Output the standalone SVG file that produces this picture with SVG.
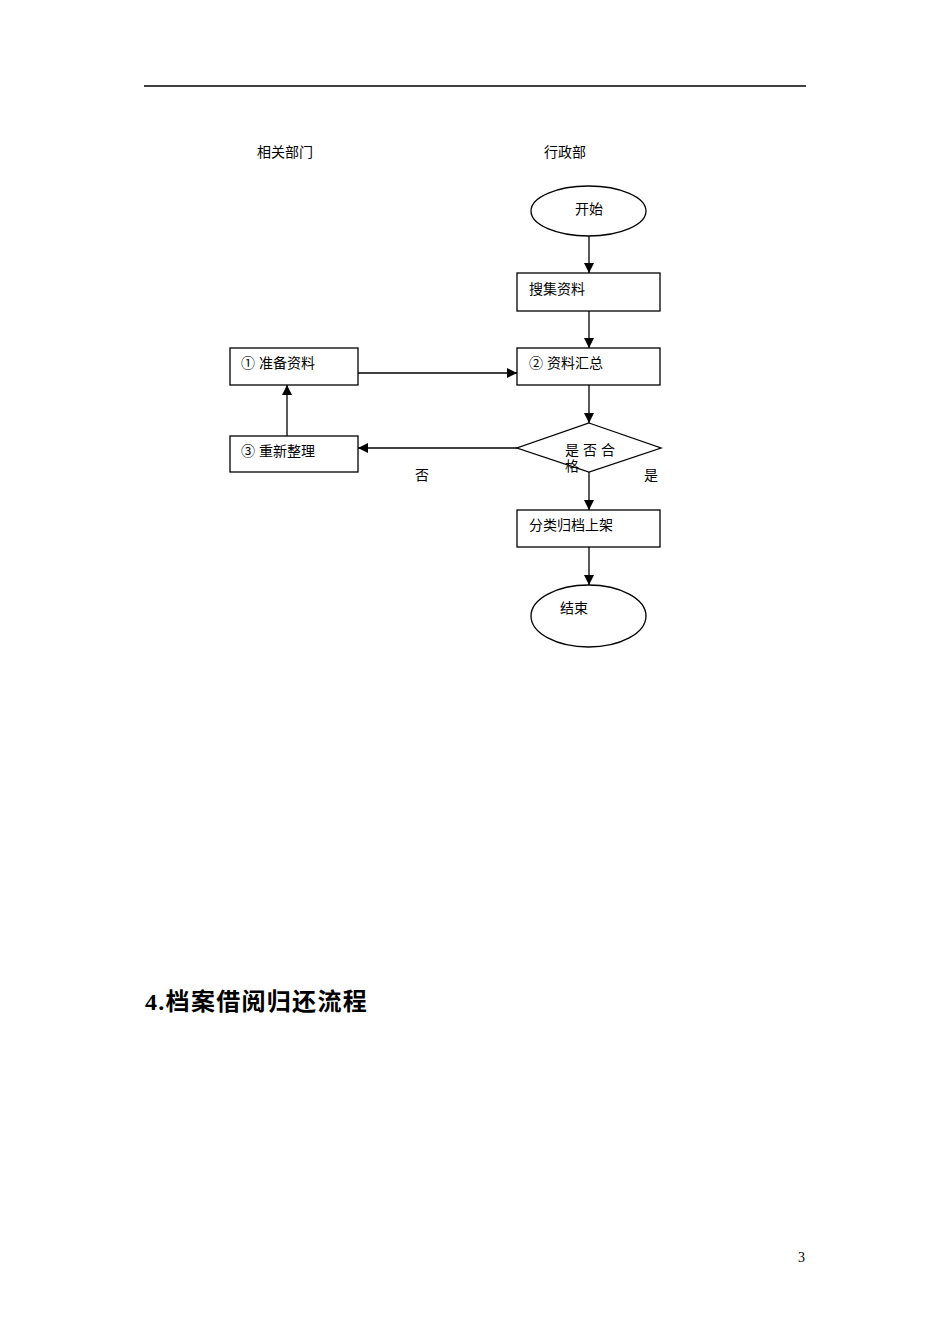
<svg xmlns="http://www.w3.org/2000/svg" width="950" height="1344" viewBox="0 0 950 1344">
<defs>
<style>
.t{font-family:"Liberation Serif","Noto Sans CJK SC",serif;font-size:14px;fill:#000}
.n{font-family:"Noto Sans CJK SC",sans-serif}
.s{fill:#fff;stroke:#000;stroke-width:1.3}
.c{stroke:#000;stroke-width:1.3;fill:none}
</style>
<marker id="a" markerWidth="10" markerHeight="10" refX="10" refY="5" orient="auto" markerUnits="userSpaceOnUse">
<path d="M0,0 L10,5 L0,10 Z" fill="#000"/>
</marker>
</defs>
<rect width="950" height="1344" fill="#fff"/>
<line x1="144" y1="86" x2="806" y2="86" stroke="#000" stroke-width="1.3"/>
<text class="t" x="257" y="157">相关部门</text>
<text class="t" x="544" y="157">行政部</text>
<g id="connectors">
<line class="c" x1="589" y1="236" x2="589" y2="273" marker-end="url(#a)"/>
<line class="c" x1="589" y1="311" x2="589" y2="348" marker-end="url(#a)"/>
<line class="c" x1="358" y1="373" x2="517" y2="373" marker-end="url(#a)"/>
<line class="c" x1="589" y1="385" x2="589" y2="423" marker-end="url(#a)"/>
<line class="c" x1="517" y1="448" x2="358" y2="448" marker-end="url(#a)"/>
<line class="c" x1="287" y1="436" x2="287" y2="385" marker-end="url(#a)"/>
<line class="c" x1="589" y1="472" x2="589" y2="510" marker-end="url(#a)"/>
<line class="c" x1="589" y1="547" x2="589" y2="585" marker-end="url(#a)"/>
<text class="t" x="415" y="480">否</text>
<text class="t" x="644" y="480">是</text>
</g>
<g id="start">
<ellipse class="s" cx="588.5" cy="211" rx="57.5" ry="25"/>
<text class="t" x="575" y="214">开始</text>
</g>
<g id="collect">
<rect class="s" x="517" y="273" width="143" height="38"/>
<text class="t" x="529" y="294">搜集资料</text>
</g>
<g id="summary">
<rect class="s" x="517" y="348" width="143" height="37"/>
<text class="t" x="529" y="368"><tspan class="n">②</tspan><tspan x="547">资料汇总</tspan></text>
</g>
<g id="prepare">
<rect class="s" x="230" y="348" width="128" height="37"/>
<text class="t" x="241" y="368"><tspan class="n">①</tspan><tspan x="259">准备资料</tspan></text>
</g>
<g id="decision">
<polygon class="s" points="589,423 661,448 589,472 517,448"/>
<text class="t" x="565" y="455" letter-spacing="4">是否合</text>
<text class="t" x="565" y="471">格</text>
</g>
<g id="reorganize">
<rect class="s" x="230" y="436" width="128" height="36"/>
<text class="t" x="241" y="456"><tspan class="n">③</tspan><tspan x="259">重新整理</tspan></text>
</g>
<g id="archive">
<rect class="s" x="517" y="510" width="143" height="37"/>
<text class="t" x="529" y="530">分类归档上架</text>
</g>
<g id="end">
<ellipse class="s" cx="588.5" cy="616" rx="57.5" ry="31"/>
<text class="t" x="560" y="613">结束</text>
</g>
<text x="145" y="1010" letter-spacing="1.3" style="font-family:'Liberation Serif','Noto Sans CJK SC',serif;font-size:24px;font-weight:bold">4.档案借阅归还流程</text>
<text x="798" y="1262" style="font-family:'Liberation Serif',serif;font-size:14px">3</text>
</svg>
